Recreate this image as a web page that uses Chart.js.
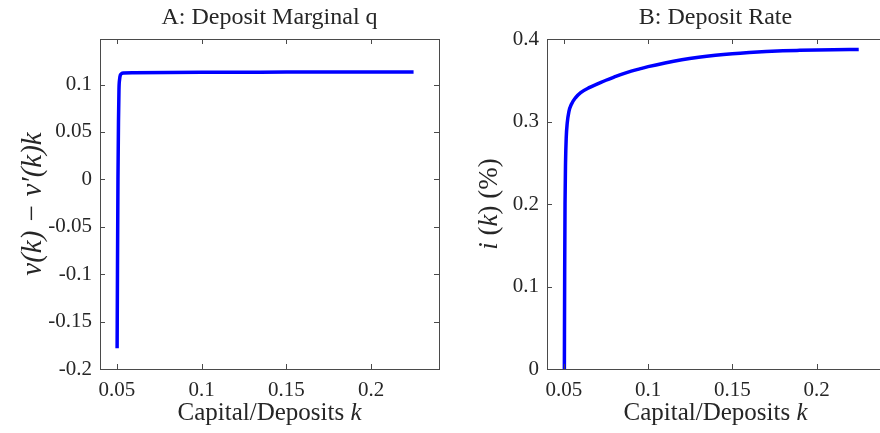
<!DOCTYPE html>
<html><head><meta charset="utf-8">
<script src="https://cdn.jsdelivr.net/npm/chart.js@4/dist/chart.umd.min.js"></script>
<style>
html,body{margin:0;padding:0;width:880px;height:433px;overflow:hidden;background:#fff}
#a{position:absolute;left:0;top:0}
#b{position:absolute;left:460px;top:0}
</style></head><body>
<canvas id="a" width="460" height="433" style="width:460px;height:433px"></canvas>
<canvas id="b" width="440" height="433" style="width:440px;height:433px"></canvas>
<script>
// ---- data ----
const kA = [0.0501, 0.0503, 0.0506, 0.0509, 0.0512, 0.0516, 0.052, 0.0527, 0.054, 0.06, 0.08, 0.1, 0.15, 0.2, 0.225];
const qA = [-0.178, -0.10, 0.0, 0.06, 0.095, 0.106, 0.1100, 0.1115, 0.1121, 0.1124, 0.1127, 0.1129, 0.1131, 0.1133, 0.1133];
const kB = [0.0503, 0.0505, 0.0507, 0.051, 0.0514, 0.052, 0.053, 0.0545, 0.057, 0.06, 0.065, 0.07, 0.075, 0.08, 0.085, 0.09, 0.095, 0.1, 0.11, 0.12, 0.13, 0.14, 0.15, 0.16, 0.17, 0.18, 0.19, 0.2, 0.21, 0.225];
const rateB = [0.0, 0.12, 0.2, 0.25, 0.28, 0.298, 0.312, 0.321, 0.329, 0.335, 0.341, 0.3455, 0.350, 0.354, 0.3578, 0.361, 0.3638, 0.3665, 0.371, 0.3748, 0.3778, 0.3802, 0.3821, 0.3836, 0.3848, 0.3857, 0.3863, 0.3868, 0.3871, 0.3874];
const xTicks = [0.05, 0.1, 0.15, 0.2];
const yTicksA = [-0.2, -0.15, -0.1, -0.05, 0, 0.05, 0.1];
const yTicksB = [0, 0.1, 0.2, 0.3, 0.4];
const titleA = 'A: Deposit Marginal q';
const titleB = 'B: Deposit Rate';
const xLabel = [['Capital/Deposits ', false], ['k', true]];
const yLabelA = [['v(k) \u2212 v\u2032(k)k', true]];
const yLabelB = [['i', true], [' (', false], ['k', true], [') (%)', false]];

const FONT = 'Liberation Serif';
const TXT = '#262626';
const AX = '#4a4a4a';

function fmt(v){ return String(Number(v.toFixed(4))); }

function drawSegs(ctx, segs, size, cx, cy, rot){
  ctx.save();
  ctx.translate(cx, cy);
  if (rot) ctx.rotate(-Math.PI/2);
  ctx.fillStyle = TXT;
  ctx.textBaseline = 'middle';
  ctx.textAlign = 'left';
  let total = 0;
  const w = segs.map(([t, it]) => { ctx.font = (it ? 'italic ' : '') + size + 'px "' + FONT + '"'; const m = ctx.measureText(t).width; total += m; return m; });
  let x = -total/2;
  segs.forEach(([t, it], i) => { ctx.font = (it ? 'italic ' : '') + size + 'px "' + FONT + '"'; ctx.fillText(t, x, 0); x += w[i]; });
  ctx.restore();
}

function makePlugin(title, yLabel, yLabelX, yLabelSize, rightTicks){
  return {
    id: 'deco',
    afterDraw(chart){
      const ctx = chart.ctx, a = chart.chartArea;
      const xs = chart.scales.x, ys = chart.scales.y;
      ctx.save();
      ctx.strokeStyle = AX; ctx.lineWidth = 1;
      ctx.strokeRect(Math.round(a.left)+0.5, Math.round(a.top)+0.5, Math.round(a.right-a.left), Math.round(a.bottom-a.top));
      const L = 5;
      ctx.beginPath();
      xs.ticks.forEach(t => { const p = Math.round(xs.getPixelForValue(t.value))+0.5;
        ctx.moveTo(p, a.bottom); ctx.lineTo(p, a.bottom-L); ctx.moveTo(p, a.top); ctx.lineTo(p, a.top+L); });
      ys.ticks.forEach(t => { const p = Math.round(ys.getPixelForValue(t.value))+0.5;
        ctx.moveTo(a.left, p); ctx.lineTo(a.left+L, p);
        if (rightTicks) { ctx.moveTo(a.right, p); ctx.lineTo(a.right-L, p); } });
      ctx.stroke();
      ctx.restore();
      const cx = (a.left + a.right)/2;
      drawSegs(ctx, [[title, false]], 24, cx, 18, false);
      drawSegs(ctx, xLabel, 25, cx, 413, false);
      drawSegs(ctx, yLabel, yLabelSize, yLabelX, (a.top+a.bottom)/2, true);
    }
  };
}

function makeChart(id, kx, vy, yTicks, ymin, ymax, yAxisW, padRight, title, yLabel, yLabelX, yLabelSize, rightTicks){
  return new Chart(document.getElementById(id), {
    type: 'line',
    data: { datasets: [{ data: kx.map((k, i) => ({x: k, y: vy[i]})), borderColor: '#0000ff', borderWidth: 3.5,
      pointRadius: 0, cubicInterpolationMode: 'monotone', fill: false }] },
    options: {
      responsive: false, animation: false, devicePixelRatio: 1,
      layout: { padding: { top: 39, right: padRight, left: 0, bottom: 0 } },
      plugins: { legend: { display: false }, tooltip: { enabled: false }, title: { display: false } },
      scales: {
        x: { type: 'linear', min: 0.04, max: 0.24,
          afterBuildTicks: s => { s.ticks = xTicks.map(v => ({value: v})); },
          afterFit: s => { s.height = 64; },
          grid: { display: false, drawTicks: false }, border: { display: false },
          ticks: { padding: 9, color: TXT, font: { family: FONT, size: 21 }, callback: v => fmt(v), maxRotation: 0 } },
        y: { type: 'linear', min: ymin, max: ymax,
          afterBuildTicks: s => { s.ticks = yTicks.map(v => ({value: v})); },
          afterFit: s => { s.width = yAxisW; },
          grid: { display: false, drawTicks: false }, border: { display: false },
          ticks: { padding: 8, color: TXT, font: { family: FONT, size: 21 }, callback: v => fmt(v) } }
      }
    },
    plugins: [makePlugin(title, yLabel, yLabelX, yLabelSize, rightTicks)]
  });
}

makeChart('a', kA, qA, yTicksA, -0.2, 0.148, 100, 21, titleA, yLabelA, 33, 29, true);
makeChart('b', kB, rateB, yTicksB, 0, 0.4, 87, 16, titleB, yLabelB, 30, 27, false);
</script>
</body></html>
